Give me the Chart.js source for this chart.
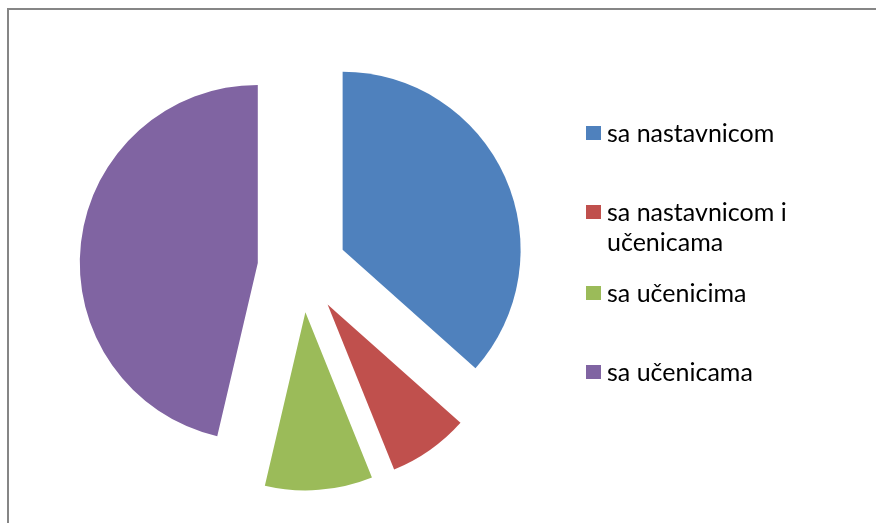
<!DOCTYPE html>
<html>
<head>
<meta charset="utf-8">
<script src="https://cdn.jsdelivr.net/npm/chart.js@4.4.1/dist/chart.umd.min.js"></script>
<style>
  body { margin: 0; background: #fff; width: 876px; height: 523px; overflow: hidden; position: relative; font-family: Lato, sans-serif; }
  #frame { position: absolute; left: 7px; top: 8px; width: 900px; height: 600px; border-left: 2px solid #868686; border-top: 2px solid #868686; }
  #wrap { position: absolute; left: 0; top: 0; width: 876px; height: 523px; }
  .item { position: absolute; left: 586px; width: 280px; font-size: 25px; line-height: 30px; color: #000; }
  .item .box { position: absolute; left: 0; top: 9px; width: 15px; height: 14px; }
  .item .txt { margin-left: 21px; }
</style>
</head>
<body>
<div id="frame"></div>
<div id="wrap"><canvas id="pie"></canvas></div>
<div id="legend"></div>
<script>
//data
let categories = ["sa nastavnicom", "sa nastavnicom i učenicama", "sa učenicima", "sa učenicama"];
let counts = [15, 3, 4, 19];
let colors = ["#4F81BD", "#C0504D", "#9BBB59", "#8064A2"];

//layout
let pieRadius = 178;
let explode = 44.5; //distance each slice is pulled out from the centre
let legendTops = [117, 196, 277, 356];

//exploded pie: draw every arc shifted out along its middle angle
let explodeSlices = {
	id: "explodeSlices",
	beforeDatasetDraw(chart, args) {
		let ctx = chart.ctx;
		args.meta.data.forEach((arc) => {
			let mid = (arc.startAngle + arc.endAngle) / 2;
			ctx.save();
			ctx.translate(Math.cos(mid) * explode, Math.sin(mid) * explode);
			arc.draw(ctx);
			ctx.restore();
		});
		return false;
	},
};

let pieChart = new Chart(document.getElementById("pie"), {
	type: "pie",
	data: {
		labels: categories,
		datasets: [
			{
				data: counts,
				backgroundColor: colors,
				borderWidth: 0,
			},
		],
	},
	options: {
		responsive: true,
		maintainAspectRatio: false,
		animation: false,
		radius: pieRadius,
		layout: { padding: { left: 2, right: 274, top: 20, bottom: 7 } },
		plugins: {
			legend: { display: false },
			tooltip: { enabled: false },
		},
	},
	plugins: [explodeSlices],
});

//legend
let legend = document.getElementById("legend");
categories.forEach((name, i) => {
	let div = document.createElement("div");
	div.className = "item";
	div.style.top = legendTops[i] + "px";
	div.innerHTML = '<span class="box" style="background:' + colors[i] + '"></span><div class="txt">' + name + "</div>";
	legend.appendChild(div);
});
</script>
</body>
</html>
